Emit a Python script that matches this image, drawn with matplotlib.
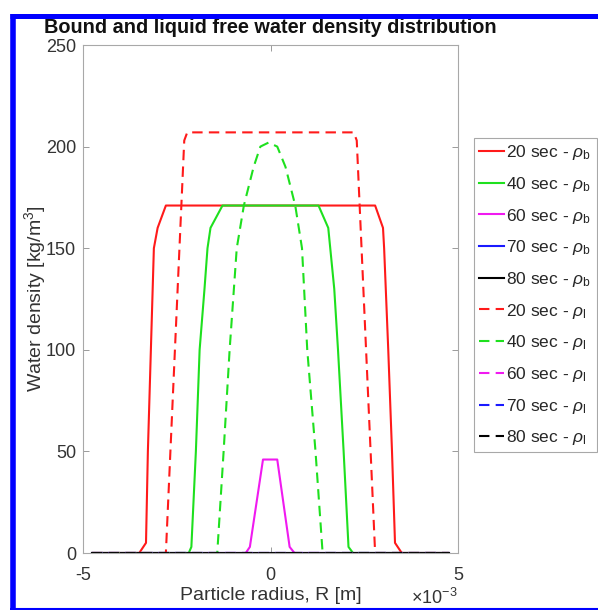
import matplotlib
matplotlib.use("Agg")
import matplotlib.pyplot as plt
from matplotlib.lines import Line2D
from matplotlib.ticker import ScalarFormatter
import numpy as np

plt.rcParams['font.family'] = ['Liberation Sans', 'DejaVu Sans']
plt.rcParams['mathtext.fontset'] = 'custom'
plt.rcParams['mathtext.rm'] = 'Liberation Sans'
plt.rcParams['mathtext.it'] = 'Liberation Sans:italic'
plt.rcParams['mathtext.bf'] = 'Liberation Sans:bold'
plt.rcParams['axes.unicode_minus'] = False

# ---------------- data (x in mm, converted to m below) ----------------
times = ["20", "40", "60", "70", "80"]
colors = ["#ff1a1a", "#1ee01e", "#f01af0", "#1a1aff", "#000000"]

# bound water rho_b
x20b = [-4.75, -3.50, -3.32, -3.27, -3.19, -3.11, -3.01, -2.79, 2.79, 3.00, 3.03, 3.14, 3.24, 3.32, 3.50, 4.75]
y20b = [0, 0, 5, 50, 100, 150, 160, 171, 171, 160, 150, 100, 50, 5, 0, 0]
x40b = [-4.75, -2.18, -2.11, -1.99, -1.89, -1.76, -1.68, -1.60, -1.28, 1.28, 1.54, 1.70, 1.80, 1.95, 2.08, 2.20, 4.75]
y40b = [0, 0, 3, 50, 100, 130, 150, 160, 171, 171, 160, 130, 100, 50, 3, 0, 0]
x60b = [-4.75, -0.66, -0.55, -0.20, 0.18, 0.51, 0.64, 4.75]
y60b = [0, 0, 3, 46, 46, 3, 0, 0]
x70b = [-4.75, 4.75]
y70b = [0, 0]
x80b = [-4.75, 4.75]
y80b = [0, 0]

# liquid free water rho_l
x20l = [-4.75, -2.79, -2.30, -2.22, 2.22, 2.30, 2.79, 4.75]
y20l = [0, 0, 203, 207, 207, 203, 0, 0]
x40l = [-4.75, -1.42, -1.25, -1.09, -0.90, -0.71, -0.45, -0.27, -0.05, 0.18, 0.40, 0.66, 0.84, 0.98, 1.20, 1.39, 4.75]
y40l = [0, 0, 50, 100, 150, 171, 190, 200, 202, 200, 190, 171, 150, 100, 50, 0, 0]
x60l = [-4.75, 4.75]
y60l = [0, 0]
x70l = [-4.75, 4.75]
y70l = [0, 0]
x80l = [-4.75, 4.75]
y80l = [0, 0]

bound = [(x20b, y20b), (x40b, y40b), (x60b, y60b), (x70b, y70b), (x80b, y80b)]
liquid = [(x20l, y20l), (x40l, y40l), (x60l, y60l), (x70l, y70l), (x80l, y80l)]

xticks = [-5e-3, 0, 5e-3]
yticks = [0, 50, 100, 150, 200, 250]


class PlainTickFormatter(ScalarFormatter):
    """Scaled tick labels in plain text (hyphen minus), offset as x10^n."""
    def __call__(self, x, pos=None):
        v = x / 10 ** self.orderOfMagnitude
        return f"{v:g}"


# ---------------- figure ----------------
W, H = 598, 610
fig = plt.figure(figsize=(W / 100, H / 100), dpi=100)
ax = fig.add_axes([83 / W, 1 - 553 / H, (458 - 83) / W, (553 - 45) / H])

lw = 1.5
dash = (5, 3)
for (xs, ys), c, t in zip(bound, colors, times):
    ax.plot(np.array(xs) * 1e-3, ys, color=c, lw=lw, label=f"{t} sec - $\\rho_{{\\mathrm{{b}}}}$")
for (xs, ys), c, t in zip(liquid, colors, times):
    ax.plot(np.array(xs) * 1e-3, ys, color=c, lw=lw, dashes=dash,
            label=f"{t} sec - $\\rho_{{\\mathrm{{l}}}}$")

ax.set_xlim(-5e-3, 5e-3)
ax.set_ylim(0, 250)
ax.set_xticks(xticks)
ax.set_yticks(yticks)

fmt = PlainTickFormatter(useMathText=True)
fmt.set_powerlimits((-2, 2))
ax.xaxis.set_major_formatter(fmt)

tick_col = '#333333'
ax.tick_params(direction='in', length=4, width=0.7, colors='#9a9a9a',
               labelcolor=tick_col, labelsize=13, top=True, right=True)
ax.tick_params(axis='x', pad=10)
ax.tick_params(axis='y', pad=5)
ax.xaxis.get_offset_text().set_fontsize(13)
ax.xaxis.get_offset_text().set_color(tick_col)
for s in ax.spines.values():
    s.set_color('#a8a8a8')
    s.set_linewidth(0.8)

ax.set_xlabel("Particle radius, R [m]", fontsize=14, color=tick_col, labelpad=2)
ax.set_ylabel("Water density [kg/m$^{3}$]", fontsize=14, color=tick_col, labelpad=-1.5)
ax.set_title("Bound and liquid free water density distribution", fontsize=14.3,
             fontweight='bold', color='#111111', pad=8.5)

leg = ax.legend(loc='upper left', bbox_to_anchor=(474 / W, 1 - 138 / H),
                bbox_transform=fig.transFigure, borderaxespad=0, fontsize=12.5,
                handlelength=1.45, handletextpad=0.12, labelspacing=0.73,
                borderpad=0.3, fancybox=False, framealpha=1, labelcolor='#262626')
leg.get_frame().set_edgecolor('#a8a8a8')
leg.get_frame().set_linewidth(0.8)

# blue frame around the picture
blue = '#0000ff'
fig.add_artist(Line2D([12.5 / W, 12.5 / W], [0, 1 - 13.5 / H], transform=fig.transFigure,
                      color=blue, lw=4, solid_capstyle='butt'))
fig.add_artist(Line2D([10 / W, 1], [1 - 15.8 / H, 1 - 15.8 / H], transform=fig.transFigure,
                      color=blue, lw=3.6, solid_capstyle='butt'))
fig.add_artist(Line2D([10 / W, 1], [1 - 608.5 / H, 1 - 608.5 / H], transform=fig.transFigure,
                      color=blue, lw=1.5, solid_capstyle='butt'))

fig.savefig("out.png", dpi=100)
